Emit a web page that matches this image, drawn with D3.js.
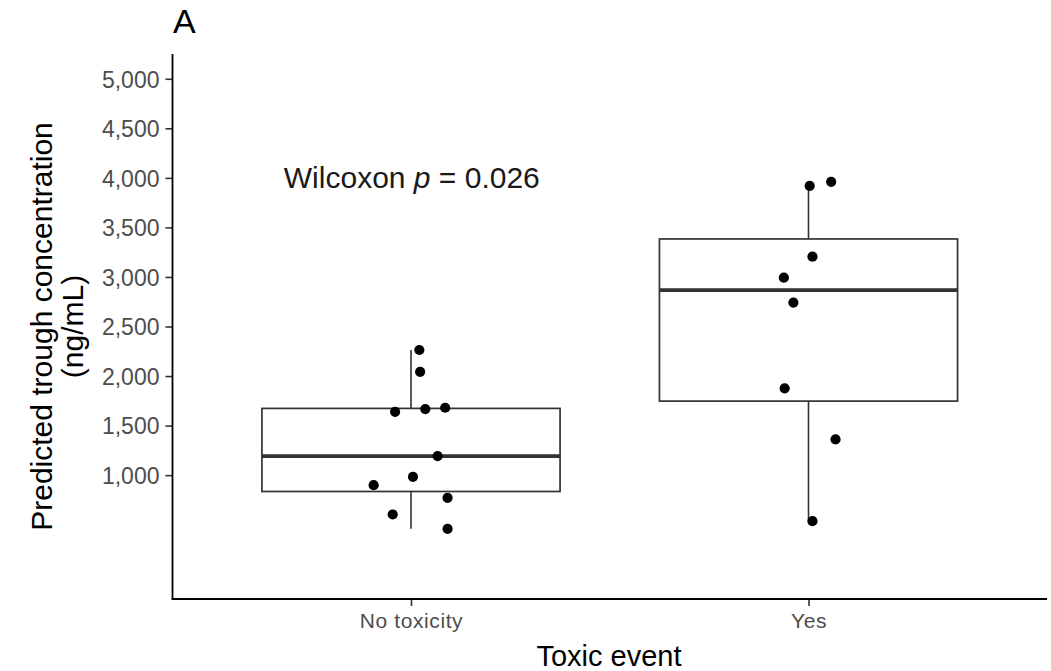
<!DOCTYPE html>
<html>
<head>
<meta charset="utf-8">
<script src="https://cdn.jsdelivr.net/npm/d3@7"></script>
<style>
  html, body { margin: 0; padding: 0; background: #fff; }
  svg { display: block; font-family: "Liberation Sans", Arial, Helvetica, sans-serif; }
</style>
</head>
<body>
<svg id="chart" width="1051" height="671"></svg>
<script>
// Predicted trough concentration by toxic event group
const categories = ["No toxicity", "Yes"];

// Observed concentrations (ng/mL) per group
const noToxicityValues = [2263, 2043, 1639, 1667, 1680, 1192, 983, 899, 771, 603, 458];
const yesValues = [3919, 3960, 3205, 2993, 2741, 1876, 1360, 535];

// Horizontal jitter of each point, as a fraction of the category step
const noToxicityJitter = [0.021, 0.023, -0.040, 0.036, 0.086, 0.067, 0.005, -0.094, 0.092, -0.046, 0.092];
const yesJitter = [0.003, 0.057, 0.010, -0.062, -0.038, -0.060, 0.068, 0.010];

const yTicks = [1000, 1500, 2000, 2500, 3000, 3500, 4000, 4500, 5000];
const yLimits = [0, 5000];

const testLabel = { prefix: "Wilcoxon ", stat: "p", suffix: " = 0.026" };

const groups = [
  { name: categories[0], values: noToxicityValues, jitter: noToxicityJitter },
  { name: categories[1], values: yesValues, jitter: yesJitter }
];

const svg = d3.select("#chart");
const panel = { left: 172.5, right: 1047, top: 54, bottom: 599 };

// Continuous scale with 5% expansion on both sides
const span = yLimits[1] - yLimits[0];
const y = d3.scaleLinear()
  .domain([yLimits[0] - 0.05 * span, yLimits[1] + 0.05 * span])
  .range([panel.bottom, panel.top]);

// Discrete scale: 0.6 of a step on either side
const x = d3.scalePoint()
  .domain(categories)
  .range([panel.left, panel.right])
  .padding(0.6);
const step = x.step();
const boxW = 0.75 * step;

const g = svg.append("g");

// Box plots (Tukey style, quantile type 7)
groups.forEach(grp => {
  const sorted = grp.values.slice().sort(d3.ascending);
  const q1 = d3.quantile(sorted, 0.25);
  const med = d3.quantile(sorted, 0.5);
  const q3 = d3.quantile(sorted, 0.75);
  const iqr = q3 - q1;
  const lo = d3.min(sorted.filter(v => v >= q1 - 1.5 * iqr));
  const hi = d3.max(sorted.filter(v => v <= q3 + 1.5 * iqr));
  const cx = x(grp.name);

  const bg = g.append("g").attr("class", "box");
  bg.append("line")
    .attr("x1", cx).attr("x2", cx)
    .attr("y1", y(q3)).attr("y2", y(hi))
    .attr("stroke", "#333").attr("stroke-width", 1.6);
  bg.append("line")
    .attr("x1", cx).attr("x2", cx)
    .attr("y1", y(q1)).attr("y2", y(lo))
    .attr("stroke", "#333").attr("stroke-width", 1.6);
  bg.append("rect")
    .attr("x", cx - boxW / 2).attr("width", boxW)
    .attr("y", y(q3)).attr("height", y(q1) - y(q3))
    .attr("fill", "#fff").attr("stroke", "#333").attr("stroke-width", 1.7);
  bg.append("line")
    .attr("x1", cx - boxW / 2).attr("x2", cx + boxW / 2)
    .attr("y1", y(med)).attr("y2", y(med))
    .attr("stroke", "#333").attr("stroke-width", 3.6);
});

// Jittered points
groups.forEach(grp => {
  g.append("g").selectAll("circle")
    .data(grp.values.map((v, i) => ({ v, j: grp.jitter[i] })))
    .join("circle")
    .attr("cx", d => x(grp.name) + d.j * step)
    .attr("cy", d => y(d.v))
    .attr("r", 5.1)
    .attr("fill", "#000");
});

// Axes
const yAxis = svg.append("g")
  .attr("transform", `translate(${panel.left},0)`)
  .call(d3.axisLeft(y).tickValues(yTicks).tickFormat(d3.format(",")).tickSizeOuter(0).tickSize(7).tickPadding(6));
const xAxis = svg.append("g")
  .attr("transform", `translate(0,${panel.bottom})`)
  .call(d3.axisBottom(x).tickSizeOuter(0).tickSize(7).tickPadding(6));

[yAxis, xAxis].forEach(ax => {
  ax.select(".domain").remove();
  ax.selectAll(".tick line").attr("stroke", "#333").attr("stroke-width", 1.6);
  ax.selectAll(".tick text").attr("fill", "#4d4d4d").attr("font-family", null);
});
yAxis.selectAll(".tick text").attr("font-size", 23).attr("dy", "0.36em");
xAxis.selectAll(".tick text").attr("font-size", 21).attr("letter-spacing", "0.6px").attr("dy", "0.75em");

// Axis lines
svg.append("line")
  .attr("x1", panel.left).attr("x2", panel.left)
  .attr("y1", panel.top).attr("y2", panel.bottom + 0.8)
  .attr("stroke", "#000").attr("stroke-width", 1.8);
svg.append("line")
  .attr("x1", panel.left - 0.8).attr("x2", panel.right)
  .attr("y1", panel.bottom).attr("y2", panel.bottom)
  .attr("stroke", "#000").attr("stroke-width", 1.8);

// Axis titles
svg.append("text")
  .attr("x", 609)
  .attr("y", 666)
  .attr("text-anchor", "middle")
  .attr("font-size", 29)
  .attr("fill", "#000")
  .text("Toxic event");

const yTitle = svg.append("text")
  .attr("transform", `translate(0,${(panel.top + panel.bottom) / 2}) rotate(-90)`)
  .attr("text-anchor", "middle")
  .attr("font-size", 30)
  .attr("fill", "#000");
yTitle.append("tspan").attr("x", 0).attr("y", 52).text("Predicted trough concentration");
yTitle.append("tspan").attr("x", 0).attr("y", 83).text("(ng/mL)");

// Test annotation
const ann = svg.append("text")
  .attr("x", x(categories[0]) - 0.32 * step)
  .attr("y", y(4000) + 10)
  .attr("font-size", 30)
  .attr("fill", "#1a1a1a");
ann.append("tspan").text(testLabel.prefix);
ann.append("tspan").attr("font-style", "italic").text(testLabel.stat);
ann.append("tspan").text(testLabel.suffix);

// Panel tag
svg.append("text")
  .attr("x", 173)
  .attr("y", 33)
  .attr("font-size", 34)
  .attr("fill", "#000")
  .text("A");
</script>
</body>
</html>
